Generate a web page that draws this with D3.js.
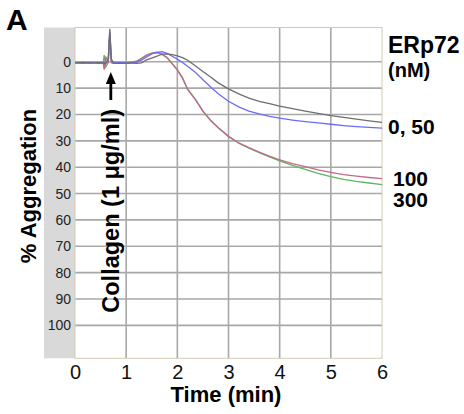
<!DOCTYPE html>
<html>
<head>
<meta charset="utf-8">
<script src="https://cdn.jsdelivr.net/npm/d3@7"></script>
<style>
  body { margin: 0; background: #fff; }
  svg { display: block; font-family: Arial, "Liberation Sans", sans-serif; }
</style>
</head>
<body>
<div id="chart"></div>
<script>
// time points (min) shared by all traces
const times = [0, 0.15, 0.3, 0.45, 0.55, 0.57, 0.6, 0.65, 0.68, 0.71, 0.75, 0.9, 1.05, 1.2, 1.3, 1.4, 1.5, 1.6, 1.7, 1.8,
  1.9, 2.0, 2.1, 2.2, 2.35, 2.5, 2.65, 2.8, 3.0, 3.2, 3.4, 3.6, 3.8, 4.0, 4.25, 4.5, 4.75, 5.0, 5.25, 5.5, 5.75, 6.0];

// % aggregation
const erp0 = [0.4, 0.2, 0.5, 0.3, 0.4, 0.5, 0.8, -1, -12.5, -1, 0.5, 0.6, 0.4, 0.6, 0.4, -0.7, -1.4, -2.1, -2.9, -3.0,
  -2.7, -2.2, -1.6, -0.6, 1.5, 3.7, 5.8, 8.0, 10.3, 12.2, 13.8, 15.0, 15.9, 16.8, 17.8, 18.7, 19.6, 20.4, 21.1, 21.8, 22.4, 23.0];
const erp50 = [0.2, 0.5, 0.3, 0.5, 0.3, 0.4, 0.6, -0.8, -11.5, -0.8, 0.4, 0.3, 0.5, 0.2, -0.6, -1.8, -3.0, -3.6, -3.8, -3.2,
  -2.1, -1.0, 0.3, 1.7, 4.0, 6.8, 9.6, 12.1, 15.0, 17.1, 18.7, 19.8, 20.7, 21.4, 22.1, 22.7, 23.2, 23.7, 24.2, 24.6, 24.9, 25.2];
const erp100 = [0.5, 0.3, 0.2, 0.6, 0.3, 3.0, -2.0, 0.5, -10.5, 0.2, 0.6, 0.4, 0.3, -0.2, -1.3, -2.5, -3.3, -3.6, -2.8, -1.5,
  0.8, 3.2, 6.2, 10.5, 14.3, 18.8, 22.3, 25.0, 28.3, 30.8, 32.6, 34.3, 35.8, 37.2, 38.6, 39.8, 41.0, 42.0, 42.8, 43.4, 43.9, 44.3];
const erp300 = [0.3, 0.6, 0.4, 0.2, 0.5, -2.5, 2.0, 0.3, -11, 0.4, 0.3, 0.5, 0.4, -0.1, -1.2, -2.4, -3.2, -3.5, -2.9, -1.6,
  0.6, 3.0, 6.0, 10.3, 14.2, 18.6, 22.2, 25.0, 28.3, 30.9, 32.8, 34.5, 36.1, 37.6, 39.3, 40.8, 42.3, 43.6, 44.6, 45.4, 46.0, 46.6];

const seriesNames = ["300", "100", "50", "0"];
const seriesValues = [erp300, erp100, erp50, erp0];
const seriesColors = ["#5cb85c", "#c06a8c", "#6b6bff", "#6e6e6e"];

const xTicks = [0, 1, 2, 3, 4, 5, 6];
const yTicks = [0, 10, 20, 30, 40, 50, 60, 70, 80, 90, 100];
const concLabels = [
  { text: "0, 50", dx: 0, y: 24.5 },
  { text: "100", dx: 5, y: 44.2 },
  { text: "300", dx: 5, y: 52.2 }
];

const W = 464, H = 414;
const svg = d3.select("#chart").append("svg").attr("width", W).attr("height", H);

const x = d3.scaleLinear().domain([0, 6]).range([75, 382]);
const y = d3.scaleLinear().domain([-13, 112.5]).range([27.5, 358.3]);

// grey band behind the y tick labels
svg.append("rect")
  .attr("x", 44).attr("y", y(-13))
  .attr("width", x(0) - 44).attr("height", y(112.5) - y(-13))
  .attr("fill", "#d9d9d9");

svg.append("rect")
  .attr("x", x(0)).attr("y", y(-13))
  .attr("width", x(6) - x(0)).attr("height", y(112.5) - y(-13))
  .attr("fill", "#fff");

// grid
const grid = svg.append("g").attr("stroke", "#a8a8a8").attr("stroke-width", 1.6);
grid.selectAll("line.v").data(xTicks.slice(1, -1)).join("line")
  .attr("class", "v")
  .attr("x1", d => x(d)).attr("x2", d => x(d))
  .attr("y1", y(-13)).attr("y2", y(112.5));
grid.selectAll("line.h").data(yTicks).join("line")
  .attr("class", "h")
  .attr("x1", x(0)).attr("x2", x(6))
  .attr("y1", d => y(d)).attr("y2", d => y(d));

// frame
svg.append("rect")
  .attr("x", x(0)).attr("y", y(-13))
  .attr("width", x(6) - x(0)).attr("height", y(112.5) - y(-13))
  .attr("fill", "none").attr("stroke", "#d2cbb2").attr("stroke-width", 1);

// y axis labels
const yAxis = svg.append("g")
  .attr("transform", `translate(${x(0)},0)`)
  .call(d3.axisLeft(y).tickValues(yTicks).tickSize(0).tickPadding(4));
yAxis.select(".domain").remove();
yAxis.selectAll("text").attr("font-size", 14).attr("fill", "#222").attr("font-family", "Arial, Liberation Sans");

// x axis labels
const xAxis = svg.append("g")
  .attr("transform", `translate(0,${y(112.5)})`)
  .call(d3.axisBottom(x).tickValues(xTicks).tickFormat(d3.format("d")).tickSize(0).tickPadding(7));
xAxis.select(".domain").remove();
xAxis.selectAll("text").attr("font-size", 20).attr("fill", "#111").attr("font-family", "Arial, Liberation Sans");

// traces
const line = d3.line().x((d, i) => x(times[i])).y(d => y(d));
svg.append("g").attr("fill", "none").attr("stroke-width", 1.3)
  .selectAll("path").data(seriesValues).join("path")
  .attr("stroke", (d, i) => seriesColors[i])
  .attr("d", line);

// collagen arrow
const ax = x(0.7);
svg.append("line")
  .attr("x1", ax).attr("x2", ax).attr("y1", 100).attr("y2", 80)
  .attr("stroke", "#000").attr("stroke-width", 2.8);
svg.append("path")
  .attr("d", `M${ax},72 L${ax - 5},84 L${ax + 5},84 Z`)
  .attr("fill", "#000");
svg.append("text")
  .attr("transform", `translate(${ax + 8},109) rotate(-90)`)
  .attr("text-anchor", "end")
  .attr("font-size", 23.5).attr("font-weight", "bold")
  .text("Collagen (1 μg/ml)");

// axis titles
svg.append("text")
  .attr("x", 226).attr("y", 402)
  .attr("text-anchor", "middle")
  .attr("font-size", 22).attr("font-weight", "bold")
  .text("Time (min)");
svg.append("text")
  .attr("transform", "translate(36,186) rotate(-90)")
  .attr("text-anchor", "middle")
  .attr("font-size", 22).attr("font-weight", "bold")
  .text("% Aggregation");

svg.append("text")
  .attr("x", 6).attr("y", 30)
  .attr("font-size", 30).attr("font-weight", "bold")
  .text("A");

// legend on the right
svg.append("text").attr("x", 388).attr("y", 53)
  .attr("font-size", 23).attr("font-weight", "bold").text("ERp72");
svg.append("text").attr("x", 388).attr("y", 77)
  .attr("font-size", 20).attr("font-weight", "bold").text("(nM)");
svg.selectAll("text.conc").data(concLabels).join("text")
  .attr("class", "conc")
  .attr("x", d => x(6) + 6 + d.dx)
  .attr("y", d => y(d.y) + 8)
  .attr("font-size", 21).attr("font-weight", "bold")
  .text(d => d.text);
</script>
</body>
</html>
